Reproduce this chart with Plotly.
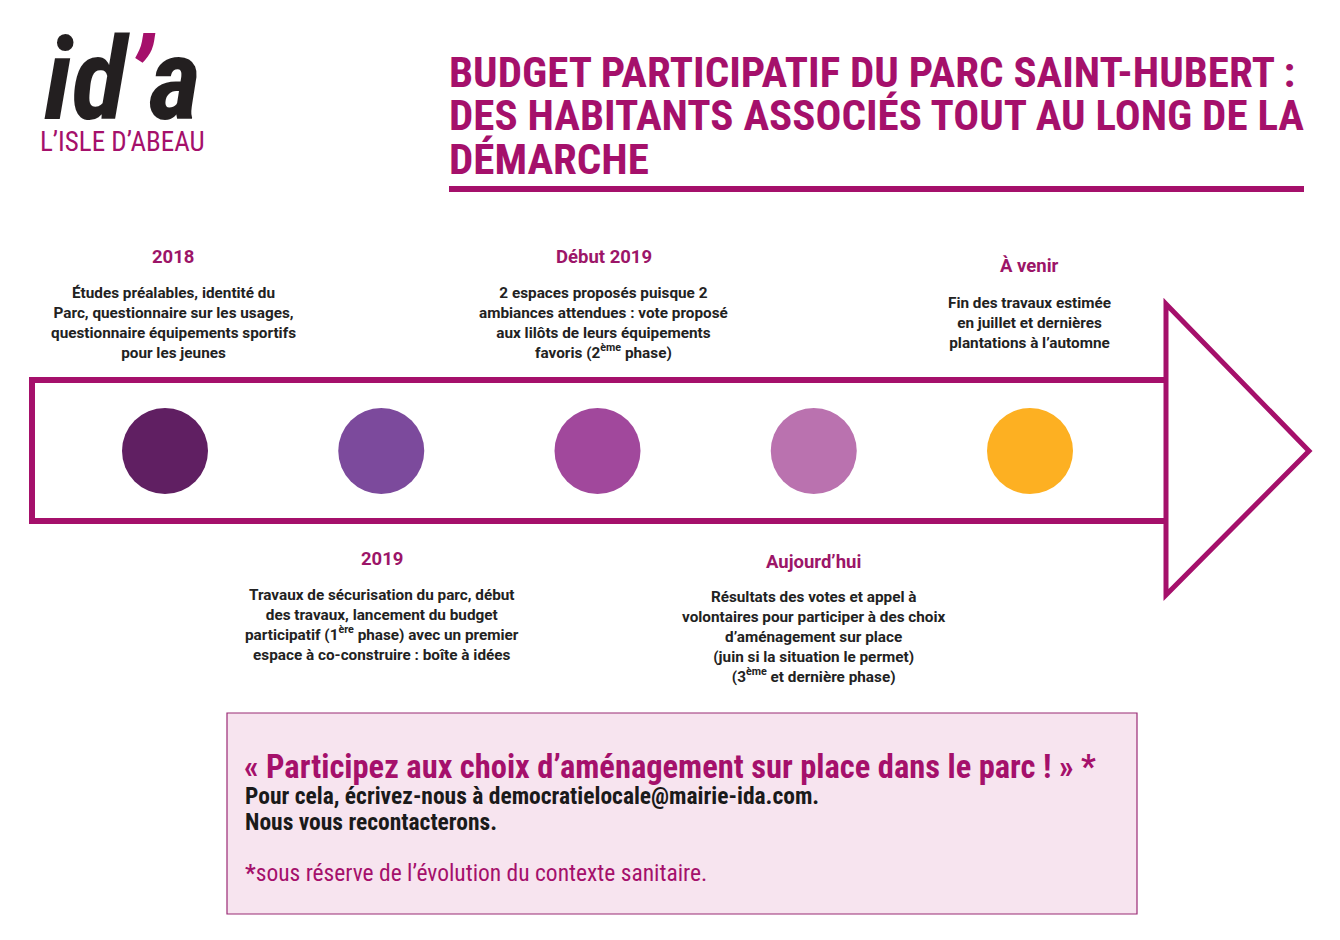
import plotly.graph_objects as go

# The page body has an 8 px margin, so the figure is drawn 8 px in from the corner.
PAGE_OFF = 8
W, H = 1340 - 2 * PAGE_OFF, 940 - 2 * PAGE_OFF

# ---------------- data ----------------
TITLE_LINES = [
    "BUDGET PARTICIPATIF DU PARC SAINT-HUBERT :",
    "DES HABITANTS ASSOCIÉS TOUT AU LONG DE LA",
    "DÉMARCHE",
]
STEPS = [1, 2, 3, 4, 5]
PHASES = ["2018", "2019", "Début 2019", "Aujourd’hui", "À venir"]
DESCRIPTIONS = [
    "Études préalables, identité du<br>Parc, questionnaire sur les usages,<br>questionnaire équipements sportifs<br>pour les jeunes",
    "Travaux de sécurisation du parc, début<br>des travaux, lancement du budget<br>participatif (1<sup>ère</sup> phase) avec un premier<br>espace à co-construire : boîte à idées",
    "2 espaces proposés puisque 2<br>ambiances attendues : vote proposé<br>aux lilôts de leurs équipements<br>favoris (2<sup>ème</sup> phase)",
    "Résultats des votes et appel à<br>volontaires pour participer à des choix<br>d’aménagement sur place<br>(juin si la situation le permet)<br>(3<sup>ème</sup> et dernière phase)",
    "Fin des travaux estimée<br>en juillet et dernières<br>plantations à l’automne",
]
CALL_TITLE = "« Participez aux choix d’aménagement sur place dans le parc ! » *"
CALL_LINES = [
    "Pour cela, écrivez-nous à democratielocale@mairie-ida.com.",
    "Nous vous recontacterons.",
]
FOOTNOTE = "sous réserve de l’évolution du contexte sanitaire."
LOGO_SUB = "L’ISLE D’ABEAU"

# ---------------- styles / layout ----------------
MAGENTA = "#A5106B"
HEAD_COL = "#9C1568"
TEXT_COL = "#222222"
DOT_COLORS = ["#601F62", "#7C4A9C", "#A1489C", "#BA72AF", "#FDB022"]
COND = "Roboto Condensed, DejaVu Sans Condensed, sans-serif"
BODY = "Roboto, Liberation Sans, sans-serif"

X0, STEP = 165.0, 216.25          # page pixel centre of step 1 and spacing
LINE_Y = 451                      # page pixel y of the timeline centre


def px(x):
    return (x - PAGE_OFF) / W


def py(y):
    return 1 - (y - PAGE_OFF) / H


def step_px(s):
    return X0 + STEP * (s - 1)


fig = go.Figure()

# circles, placed by the axis scale
fig.add_trace(go.Scatter(
    x=STEPS, y=[0] * len(STEPS), mode="markers",
    marker=dict(size=86, color=DOT_COLORS, line=dict(width=0)),
    hoverinfo="text", hovertext=PHASES, showlegend=False,
))

shapes = []
# arrow body (open on the right)
path = "M {},{} L {},{} L {},{} L {},{}".format(
    px(1166), py(380), px(32), py(380), px(32), py(521), px(1166), py(521))
shapes.append(dict(type="path", xref="paper", yref="paper", path=path,
                   line=dict(color=MAGENTA, width=6)))
# arrow head
tri = "M {},{} L {},{} L {},{} Z".format(
    px(1166), py(304), px(1309), py(451), px(1166), py(595))
shapes.append(dict(type="path", xref="paper", yref="paper", path=tri,
                   line=dict(color=MAGENTA, width=5)))
# title underline
shapes.append(dict(type="rect", xref="paper", yref="paper",
                   x0=px(449), x1=px(1304), y0=py(186), y1=py(192),
                   fillcolor=MAGENTA, line=dict(width=0)))
# call-out box
shapes.append(dict(type="rect", xref="paper", yref="paper",
                   x0=px(227), x1=px(1137), y0=py(713), y1=py(914),
                   fillcolor="#F7E4EF", line=dict(color="#9A2A75", width=1.2)))

ann = []
# logo
ann.append(dict(xref="paper", yref="paper", x=px(42), y=py(80), xanchor="left", yanchor="middle",
                text="<b><i>id<span style='color:%s'>’</span>a</i></b>" % MAGENTA,
                showarrow=False, font=dict(family=COND, size=114, color="#231F20")))
ann.append(dict(xref="paper", yref="paper", x=px(38), y=py(142), xanchor="left", yanchor="middle",
                text=LOGO_SUB, showarrow=False,
                font=dict(family=COND, size=27, color=MAGENTA)))

# title
for i, line in enumerate(TITLE_LINES):
    ann.append(dict(xref="paper", yref="paper", x=px(447), y=py(72 + 43.5 * i),
                    xanchor="left", yanchor="middle", text="<b>%s</b>" % line, showarrow=False,
                    font=dict(family=COND, size=43, color=MAGENTA)))

# event labels
HEAD_Y = [257, 559, 257, 562, 266]
DESC_Y = [322.5, 624.5, 322.5, 637, 323]
XOFF = [8, 1, 6, 0, 0]
for s, ph, d, hy, dy, xo in zip(STEPS, PHASES, DESCRIPTIONS, HEAD_Y, DESC_Y, XOFF):
    xc = step_px(s) + xo
    ann.append(dict(xref="paper", yref="paper", x=px(xc), y=py(hy), xanchor="center", yanchor="middle",
                    text="<b>%s</b>" % ph, showarrow=False,
                    font=dict(family=BODY, size=18.5, color=HEAD_COL)))
    ann.append(dict(xref="paper", yref="paper", x=px(xc), y=py(dy), xanchor="center", yanchor="middle",
                    text="<b>%s</b>" % d, showarrow=False, align="center",
                    font=dict(family=BODY, size=15.3, color=TEXT_COL)))

# call-out text
ann.append(dict(xref="paper", yref="paper", x=px(242), y=py(767), xanchor="left", yanchor="middle",
                text="<b>%s</b>" % CALL_TITLE, showarrow=False,
                font=dict(family=COND, size=32.5, color=MAGENTA)))
for i, line in enumerate(CALL_LINES):
    ann.append(dict(xref="paper", yref="paper", x=px(243), y=py(796 + 26 * i), xanchor="left", yanchor="middle",
                    text="<b>%s</b>" % line, showarrow=False,
                    font=dict(family=COND, size=23.5, color="#1A1A1A")))
ann.append(dict(xref="paper", yref="paper", x=px(243), y=py(873), xanchor="left", yanchor="middle",
                text="<b>*</b>%s" % FOOTNOTE, showarrow=False,
                font=dict(family=COND, size=23.5, color=MAGENTA)))

lo = 1 - (X0 - PAGE_OFF) / STEP
hi = 1 + (W - (X0 - PAGE_OFF)) / STEP
ly = LINE_Y - PAGE_OFF
fig.update_layout(
    width=W, height=H, margin=dict(l=0, r=0, t=0, b=0),
    paper_bgcolor="white", plot_bgcolor="rgba(0,0,0,0)",
    xaxis=dict(range=[lo, hi], visible=False, fixedrange=True),
    yaxis=dict(range=[-(H - ly), ly], visible=False, fixedrange=True),
    shapes=shapes, annotations=ann,
)

fig.write_html("out.html")
